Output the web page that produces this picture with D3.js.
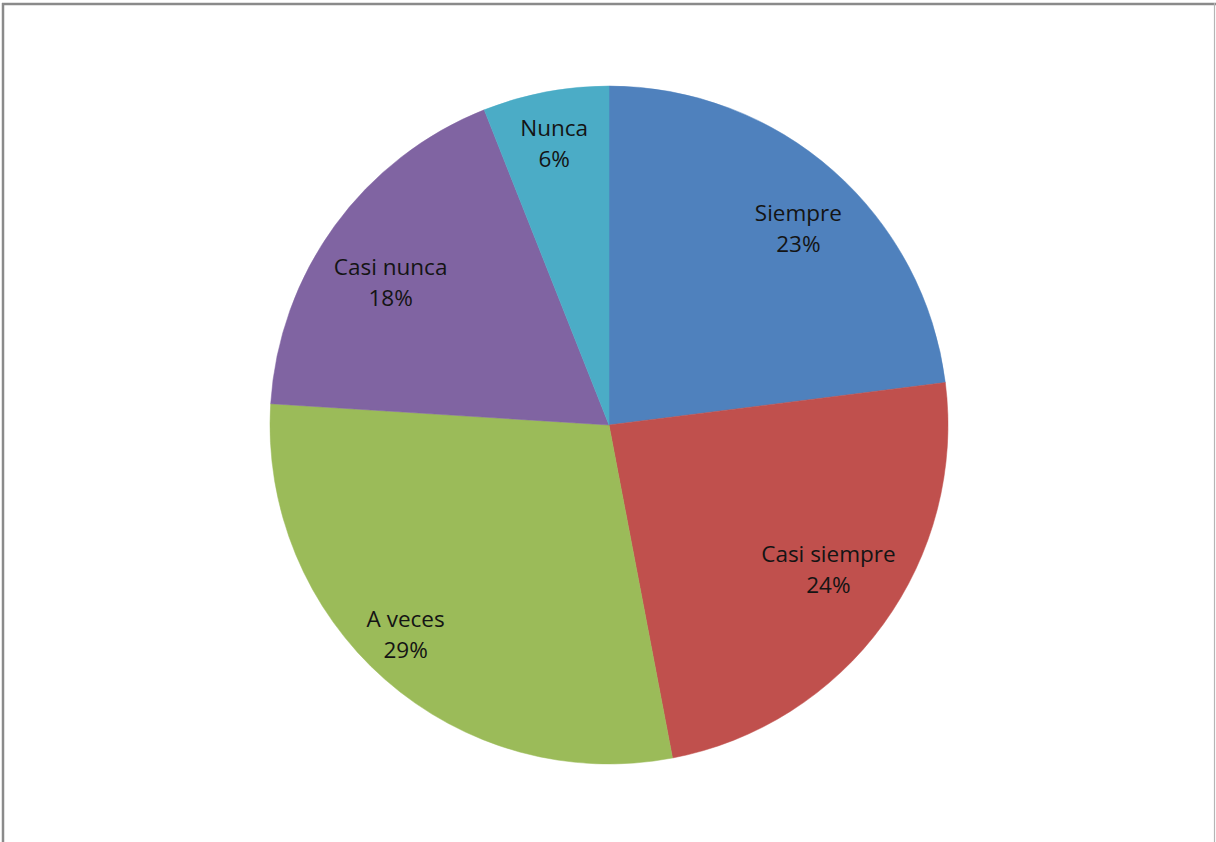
<!DOCTYPE html>
<html>
<head>
<meta charset="utf-8">
<script src="https://cdn.jsdelivr.net/npm/d3@7"></script>
<style>
  html, body { margin: 0; padding: 0; background: #fff; }
  svg { display: block; }
</style>
</head>
<body>
<svg id="chart" width="1216" height="842"></svg>
<script>
// Survey answers and their share (%)
const categories = ["Siempre", "Casi siempre", "A veces", "Casi nunca", "Nunca"];
const values = [23, 24, 29, 18, 6];
const colors = ["#4F81BD", "#C0504D", "#9BBB59", "#8064A2", "#4BACC6"];
// Small nudges applied to each data label after placing it at the slice centroid
const labelNudge = [[10, 8], [0, -13], [-24, 8], [1, 18], [-4, -14]];

const svg = d3.select("#chart");
const W = 1216, H = 842;

// Chart frame
svg.append("rect").attr("x", 0).attr("y", 0).attr("width", W).attr("height", H).attr("fill", "#fff");
svg.append("line").attr("x1", 2).attr("x2", W).attr("y1", 4).attr("y2", 4)
  .attr("stroke", "#8a8a8a").attr("stroke-width", 2.5);
svg.append("line").attr("x1", 3).attr("x2", 3).attr("y1", 3).attr("y2", H)
  .attr("stroke", "#8a8a8a").attr("stroke-width", 2.5);
svg.append("line").attr("x1", 1214.5).attr("x2", 1214.5).attr("y1", 3).attr("y2", H)
  .attr("stroke", "#b5b5b5").attr("stroke-width", 1.2);

const cx = 609, cy = 425, R = 339;

const data = categories.map((c, i) => ({ name: c, value: values[i], color: colors[i], nudge: labelNudge[i] }));

const pie = d3.pie().value(d => d.value).sort(null);
const arcs = pie(data);

const arc = d3.arc().innerRadius(0).outerRadius(R);
const labelArc = d3.arc().innerRadius(R * 0.8).outerRadius(R * 0.8);

const g = svg.append("g").attr("transform", `translate(${cx},${cy})`);

g.selectAll("path.slice")
  .data(arcs)
  .join("path")
  .attr("class", "slice")
  .attr("d", arc)
  .attr("fill", d => d.data.color)
  .attr("stroke", d => d.data.color)
  .attr("stroke-width", 0.5);

const labels = g.selectAll("text.lbl")
  .data(arcs)
  .join("text")
  .attr("class", "lbl")
  .attr("transform", d => {
    const [x, y] = labelArc.centroid(d);
    return `translate(${x + d.data.nudge[0]},${y + d.data.nudge[1]})`;
  })
  .attr("text-anchor", "middle")
  .attr("font-family", "'Open Sans', 'Noto Sans', sans-serif")
  .attr("font-size", 22.5)
  .attr("fill", "#141414");

labels.append("tspan").attr("x", 0).attr("y", -9).text(d => d.data.name);
labels.append("tspan").attr("x", 0).attr("y", 22).text(d => d.data.value + "%");
</script>
</body>
</html>
